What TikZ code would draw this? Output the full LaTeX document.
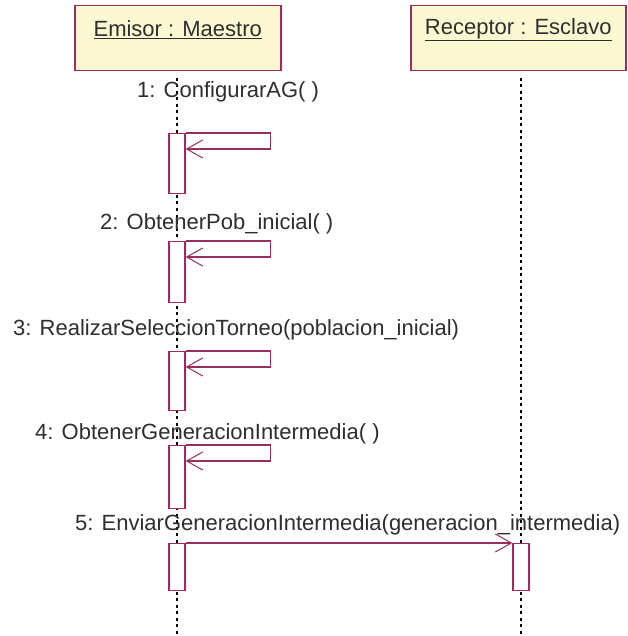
\documentclass[tikz,border=0pt]{standalone}
\usepackage{fontspec}
\setmainfont{Liberation Sans}
\usetikzlibrary{arrows.meta}
\definecolor{umlline}{HTML}{9B2D5A}
\definecolor{umlfill}{HTML}{FCF8D2}
\definecolor{umltext}{HTML}{2E2E2E}

\begin{document}
\begin{tikzpicture}[x=1pt,y=-1pt,
  objbox/.style={draw=umlline, fill=umlfill, line width=1.5pt, minimum height=65pt,
                 inner sep=0pt, anchor=north west},
  objname/.style={text=umltext, font=\fontsize{22}{26}\selectfont, inner sep=0pt},
  actbox/.style={draw=umlline, fill=white, line width=1.3pt, minimum width=16pt,
                 inner sep=0pt, anchor=north},
  lifeline/.style={black, line width=1.5pt, dash pattern=on 3pt off 3.5pt},
  msg/.style={draw=umlline, line width=1.3pt,
              -{Straight Barb[length=16pt,width=18pt,line width=1pt]}},
  lbl/.style={anchor=west, text=umltext, font=\fontsize{22}{26}\selectfont, inner sep=0pt}
]
\useasboundingbox (0,0) rectangle (627,636);

% object headers
\node[objbox, minimum width=206pt] (h1) at (74,5) {};
\node[objbox, minimum width=215pt] (h2) at (410,5) {};
\node[objname] (n1) at ([yshift=-25pt]h1.north) {\underline{Emisor : Maestro}};
\node[objname] (n2) at ([yshift=-25pt]h2.north) {\underline{Receptor : Esclavo}};

% lifelines
\coordinate (l1top) at (177,78);
\coordinate (l1bot) at (177,636);
\coordinate (l2top) at (521,78);
\coordinate (l2bot) at (521,636);
\draw[lifeline] (l1top) -- (l1bot);
\draw[lifeline] (l2top) -- (l2bot);

% message labels
\node[lbl] (m1) at (137,92)  {1: ConfigurarAG( )};
\node[lbl] (m2) at (100,224) {2: ObtenerPob\_inicial( )};
\node[lbl] (m3) at (13,330)  {3: RealizarSeleccionTorneo(poblacion\_inicial)};
\node[lbl] (m4) at (35,434)  {4: ObtenerGeneracionIntermedia( )};
\node[lbl] (m5) at (75,525)  {5: EnviarGeneracionIntermedia(generacion\_intermedia)};

% activations
\node[actbox, minimum height=60pt] (a1) at (177,133) {};
\node[actbox, minimum height=61pt] (a2) at (177,241) {};
\node[actbox, minimum height=59pt] (a3) at (177,351) {};
\node[actbox, minimum height=63pt] (a4) at (177,445) {};
\node[actbox, minimum height=47pt] (a5) at (177,543) {};
\node[actbox, minimum height=47pt] (b5) at (521,543) {};

% self messages
\draw[msg] (a1.north east) -- ++(85,0) |- ([yshift=-16pt]a1.north east);
\draw[msg] (a2.north east) -- ++(85,0) |- ([yshift=-16pt]a2.north east);
\draw[msg] (a3.north east) -- ++(85,0) |- ([yshift=-16pt]a3.north east);
\draw[msg] (a4.north east) -- ++(85,0) |- ([yshift=-16pt]a4.north east);

% call to the receptor
\draw[msg] (a5.north east) -- (b5.north west);
\end{tikzpicture}
\end{document}
